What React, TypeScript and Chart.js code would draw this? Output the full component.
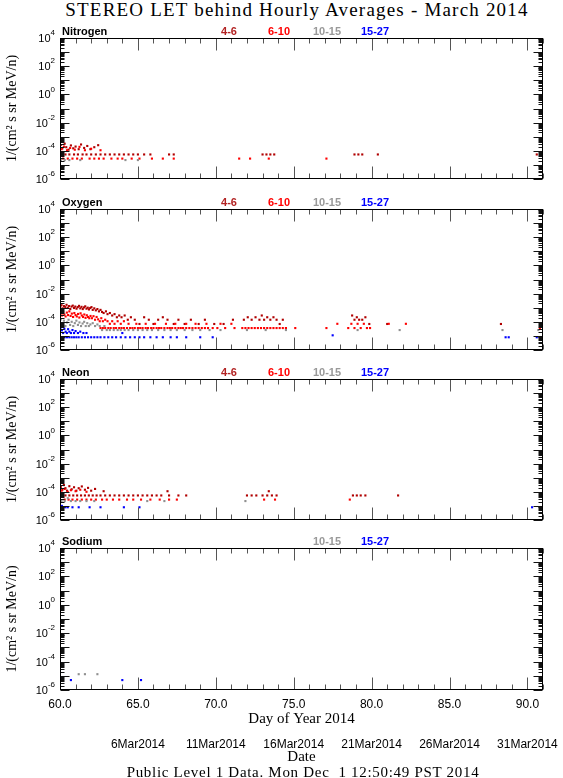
import React, { useEffect, useRef } from "react";
import { Chart, registerables } from "chart.js";

Chart.register(...registerables);

// ---------- axis / label data ----------
const X_MIN = 60;
const X_MAX = 91;
const X_TICKS = [60, 65, 70, 75, 80, 85, 90];
const DATE_TICKS = [65, 70, 75, 80, 85, 90];
const DATE_LABELS = ["6Mar2014", "11Mar2014", "16Mar2014", "21Mar2014", "26Mar2014", "31Mar2014"];
const X_TITLE = "Day of Year 2014";
const DATE_TITLE = "Date";
const Y_TITLE = "1/(cm² s sr MeV/n)";
const Y_MIN = 1e-6;
const Y_MAX = 1e4;
const Y_TICKS = [1e4, 1e2, 1, 1e-2, 1e-4, 1e-6];
const Y_EXPONENTS = ["4", "2", "0", "-2", "-4", "-6"];
const SERIES_LABELS = ["4-6", "6-10", "10-15", "15-27"];
const SERIES_COLORS = ["#b00000", "#ff0000", "#909090", "#0000ff"];
const SERIES_TEXT_COLORS = ["#b22222", "#ff0000", "#999999", "#0000ff"];
const PANEL_NAMES = ["Nitrogen", "Oxygen", "Neon", "Sodium"];

type P = [number, number];

// ---------- Nitrogen ----------
const N_46: P[] = [
  [60.05, 2.6e-4], [60.15, 1.5e-4], [60.3, 3.2e-4], [60.4, 1.8e-4], [60.55, 1.2e-4], [60.7, 2.4e-4],
  [60.85, 1.5e-4], [61.0, 2.0e-4], [61.2, 1.3e-4], [61.35, 2.8e-4], [61.55, 1.6e-4], [61.75, 2.2e-4],
  [61.95, 1.3e-4], [62.2, 1.8e-4], [62.45, 2.5e-4],
  [60.1, 5.5e-5], [60.35, 5.5e-5], [60.6, 5.5e-5], [60.9, 5.5e-5], [61.15, 5.5e-5], [61.45, 5.5e-5],
  [61.7, 5.5e-5], [62.0, 5.5e-5], [62.3, 5.5e-5], [62.6, 5.5e-5], [62.9, 5.5e-5], [63.2, 5.5e-5],
  [63.5, 5.5e-5], [63.8, 5.5e-5], [64.1, 5.5e-5], [64.4, 5.5e-5], [64.7, 5.5e-5], [65.0, 5.5e-5],
  [65.4, 5.5e-5], [65.8, 5.5e-5], [67.0, 5.5e-5], [67.3, 5.5e-5], [73.0, 5.5e-5], [73.25, 5.5e-5],
  [73.5, 5.5e-5], [73.75, 5.5e-5], [78.9, 5.5e-5], [79.15, 5.5e-5], [79.4, 5.5e-5], [80.4, 5.5e-5],
  [90.6, 5.5e-5],
];
const N_610: P[] = [
  [60.1, 1.3e-4], [60.25, 2.0e-4], [60.45, 1.1e-4], [60.65, 1.6e-4], [60.95, 1.2e-4], [61.25, 1.9e-4],
  [61.6, 1.1e-4], [62.0, 1.4e-4], [62.6, 1.1e-4],
  [60.2, 2.8e-5], [60.5, 2.8e-5], [60.8, 2.8e-5], [61.1, 2.8e-5], [61.4, 2.8e-5], [61.9, 2.8e-5],
  [62.2, 2.8e-5], [62.5, 2.8e-5], [62.8, 2.8e-5], [63.3, 2.8e-5], [63.7, 2.8e-5], [64.0, 2.8e-5],
  [64.6, 2.8e-5], [65.1, 2.8e-5], [65.9, 2.8e-5], [66.6, 2.8e-5], [67.3, 2.8e-5], [71.5, 2.8e-5],
  [72.2, 2.8e-5], [73.4, 2.8e-5], [77.1, 2.8e-5],
];
const N_1015: P[] = [[60.05, 2.2e-5], [60.3, 2.2e-5], [60.6, 2.2e-5], [61.3, 2.2e-5], [64.2, 2.2e-5], [65.0, 2.2e-5]];
const N_1527: P[] = [];

// ---------- Oxygen ----------
const O_46: P[] = [
  [60.02, 1.2e-3], [60.1, 1.5e-3], [60.18, 9e-4], [60.26, 1.3e-3], [60.34, 1.1e-3], [60.42, 1.6e-3],
  [60.5, 1.0e-3], [60.58, 1.3e-3], [60.66, 8e-4], [60.74, 1.2e-3], [60.82, 1.4e-3], [60.9, 9.5e-4],
  [60.98, 1.2e-3], [61.06, 8.5e-4], [61.14, 1.1e-3], [61.22, 1.35e-3], [61.3, 9e-4], [61.38, 1.15e-3],
  [61.46, 8e-4], [61.54, 1.05e-3], [61.62, 1.25e-3], [61.7, 8.5e-4], [61.78, 1.0e-3], [61.86, 7.5e-4],
  [61.94, 9.5e-4], [62.02, 1.1e-3], [62.1, 7e-4], [62.2, 9e-4], [62.3, 6.5e-4], [62.4, 8e-4],
  [62.5, 5.5e-4], [62.6, 7e-4], [62.7, 5e-4],
  [62.8, 4.2e-4], [62.95, 5.5e-4], [63.05, 3.5e-4], [63.2, 4.2e-4], [63.35, 2.8e-4], [63.5, 3.5e-4],
  [63.65, 2.1e-4], [63.8, 2.8e-4], [63.95, 2.1e-4], [64.15, 2.8e-4], [64.35, 1.4e-4], [64.55, 2.1e-4],
  [64.8, 1.4e-4], [65.1, 7e-5], [65.4, 2.1e-4], [65.7, 1.4e-4], [66.0, 7e-5], [66.3, 1.4e-4],
  [66.6, 2.1e-4], [66.9, 1.4e-4], [67.3, 7e-5], [67.6, 1.4e-4], [68.0, 7e-5], [68.4, 1.4e-4],
  [68.9, 7e-5], [69.3, 1.4e-4], [69.9, 7e-5], [70.5, 7e-5], [71.1, 1.4e-4],
  [71.8, 1.4e-4], [72.05, 2.1e-4], [72.3, 1.4e-4], [72.55, 2.1e-4], [72.8, 1.4e-4], [72.95, 2.8e-4],
  [73.1, 1.4e-4], [73.3, 2.1e-4], [73.5, 1.4e-4], [73.7, 2.1e-4], [73.9, 1.4e-4], [74.1, 7e-5],
  [74.3, 1.4e-4],
  [78.75, 2.8e-4], [78.9, 1.4e-4], [79.05, 2.1e-4], [79.2, 1.4e-4], [79.4, 1.4e-4], [79.6, 2.1e-4],
  [79.85, 7e-5], [81.0, 7e-5], [88.3, 7e-5],
];
const O_610: P[] = [
  [60.04, 4e-4], [60.12, 2.8e-4], [60.2, 5e-4], [60.28, 3.3e-4], [60.36, 2.4e-4], [60.44, 4.5e-4],
  [60.52, 3e-4], [60.6, 5.5e-4], [60.68, 2.6e-4], [60.76, 3.8e-4], [60.84, 2.2e-4], [60.92, 4.2e-4],
  [61.0, 3e-4], [61.08, 2.4e-4], [61.16, 3.6e-4], [61.24, 2.0e-4], [61.32, 4e-4], [61.4, 2.8e-4],
  [61.48, 2.2e-4], [61.56, 3.3e-4], [61.64, 1.9e-4], [61.72, 2.9e-4], [61.8, 2.2e-4], [61.88, 1.8e-4],
  [61.96, 2.6e-4], [62.05, 1.8e-4], [62.15, 2.5e-4], [62.25, 1.4e-4], [62.35, 2.2e-4], [62.45, 1.5e-4],
  [62.55, 1.1e-4], [62.65, 1.8e-4], [62.75, 1.1e-4], [62.9, 1.4e-4], [63.05, 1.1e-4], [63.2, 7.2e-5],
  [63.35, 1.1e-4], [63.5, 7.2e-5], [63.7, 1.1e-4], [63.9, 7.2e-5], [64.1, 1.1e-4],
  [64.4, 7.2e-5], [64.9, 7.2e-5], [65.5, 7.2e-5], [66.1, 7.2e-5], [66.8, 7.2e-5], [67.4, 7.2e-5],
  [68.1, 7.2e-5], [68.7, 7.2e-5], [69.4, 7.2e-5], [70.3, 7.2e-5], [71.0, 7.2e-5],
  [62.6, 3.6e-5], [62.75, 3.6e-5], [62.9, 3.6e-5], [63.1, 3.6e-5], [63.25, 3.6e-5], [63.45, 3.6e-5],
  [63.6, 3.6e-5], [63.8, 3.6e-5], [63.95, 3.6e-5], [64.1, 3.6e-5], [64.3, 3.6e-5], [64.5, 3.6e-5],
  [64.65, 3.6e-5], [64.8, 3.6e-5], [65.0, 3.6e-5], [65.15, 3.6e-5], [65.3, 3.6e-5], [65.5, 3.6e-5],
  [65.65, 3.6e-5], [65.85, 3.6e-5], [66.0, 3.6e-5], [66.2, 3.6e-5], [66.35, 3.6e-5], [66.5, 3.6e-5],
  [66.7, 3.6e-5], [66.9, 3.6e-5], [67.05, 3.6e-5], [67.2, 3.6e-5], [67.4, 3.6e-5], [67.6, 3.6e-5],
  [67.75, 3.6e-5], [67.9, 3.6e-5], [68.1, 3.6e-5], [68.3, 3.6e-5], [68.5, 3.6e-5], [68.7, 3.6e-5],
  [68.9, 3.6e-5], [69.1, 3.6e-5], [69.3, 3.6e-5], [69.5, 3.6e-5], [69.8, 3.6e-5], [70.1, 3.6e-5],
  [70.6, 3.6e-5], [71.2, 3.6e-5], [71.7, 3.6e-5], [71.9, 3.6e-5], [72.1, 3.6e-5], [72.3, 3.6e-5],
  [72.5, 3.6e-5], [72.7, 3.6e-5], [72.9, 3.6e-5], [73.1, 3.6e-5], [73.3, 3.6e-5], [73.5, 3.6e-5],
  [73.7, 3.6e-5], [73.9, 3.6e-5], [74.1, 3.6e-5], [74.3, 3.6e-5], [74.5, 3.6e-5],
  [75.1, 3.6e-5], [77.1, 3.6e-5], [77.8, 7.2e-5], [78.5, 3.6e-5], [78.7, 7.2e-5], [78.9, 3.6e-5],
  [79.1, 7.2e-5], [79.3, 3.6e-5], [79.5, 7.2e-5], [79.7, 3.6e-5], [79.9, 3.6e-5], [81.1, 7.2e-5],
  [82.2, 7.2e-5], [90.8, 3.6e-5],
];
const O_1015: P[] = [
  [60.05, 1.5e-4], [60.15, 8e-5], [60.25, 1.2e-4], [60.35, 5e-5], [60.45, 9e-5], [60.55, 1.4e-4],
  [60.65, 6e-5], [60.75, 1e-4], [60.85, 5e-5], [60.95, 8e-5], [61.05, 1.2e-4], [61.15, 6e-5],
  [61.25, 9e-5], [61.35, 5e-5], [61.45, 7.5e-5], [61.55, 1e-4], [61.65, 5e-5], [61.75, 8e-5],
  [61.85, 5e-5], [61.95, 6.5e-5], [62.1, 8e-5], [62.25, 5e-5], [62.4, 6.5e-5], [62.55, 5e-5],
  [62.7, 2.6e-5], [62.85, 5e-5],
  [63.0, 2.6e-5], [63.2, 2.6e-5], [63.45, 2.6e-5], [63.7, 2.6e-5], [63.9, 2.6e-5], [64.15, 2.6e-5],
  [64.4, 2.6e-5], [64.7, 2.6e-5], [65.0, 2.6e-5], [65.3, 2.6e-5], [65.6, 2.6e-5], [65.9, 2.6e-5],
  [66.3, 2.6e-5], [66.7, 2.6e-5], [67.1, 2.6e-5], [67.5, 2.6e-5], [68.0, 2.6e-5], [68.5, 2.6e-5],
  [69.0, 2.6e-5], [69.6, 2.6e-5], [70.3, 2.6e-5], [72.0, 2.6e-5], [73.2, 2.6e-5], [74.5, 2.6e-5],
  [79.1, 2.6e-5], [81.8, 2.6e-5], [88.4, 2.6e-5], [90.7, 2.6e-5],
];
const O_1527: P[] = [
  [60.05, 4e-5], [60.12, 2.5e-5], [60.2, 1.6e-5], [60.28, 3.2e-5], [60.36, 2e-5], [60.44, 1.6e-5],
  [60.52, 3e-5], [60.6, 2e-5], [60.7, 1.6e-5], [60.8, 2.6e-5], [60.9, 1.6e-5], [61.0, 2.2e-5],
  [61.15, 1.6e-5], [61.3, 2e-5], [61.5, 1.6e-5], [61.7, 1.6e-5], [64.0, 1.6e-5],
  [60.0, 8e-6], [60.15, 8e-6], [60.3, 8e-6], [60.45, 8e-6], [60.6, 8e-6], [60.75, 8e-6], [60.9, 8e-6],
  [61.05, 8e-6], [61.2, 8e-6], [61.4, 8e-6], [61.6, 8e-6], [61.8, 8e-6], [62.0, 8e-6], [62.2, 8e-6],
  [62.4, 8e-6], [62.6, 8e-6], [62.85, 8e-6], [63.1, 8e-6], [63.35, 8e-6], [63.6, 8e-6], [63.9, 8e-6],
  [64.2, 8e-6], [64.5, 8e-6], [64.8, 8e-6], [65.1, 8e-6], [65.4, 8e-6], [65.8, 8e-6], [66.2, 8e-6],
  [66.6, 8e-6], [67.1, 8e-6], [67.5, 8e-6], [68.1, 8e-6], [69.0, 8e-6], [69.8, 8e-6], [77.5, 1.1e-5],
  [88.6, 8e-6], [88.8, 8e-6], [90.6, 8e-6],
];

// ---------- Neon ----------
const NE_46: P[] = [
  [60.05, 2.2e-4], [60.15, 1.4e-4], [60.25, 3e-4], [60.35, 1.8e-4], [60.45, 1.2e-4], [60.6, 2.5e-4],
  [60.75, 1.5e-4], [60.9, 2.1e-4], [61.05, 1.2e-4], [61.2, 1.8e-4], [61.4, 2.4e-4], [61.6, 1.4e-4],
  [61.8, 1.9e-4], [62.0, 1.2e-4], [62.25, 1.6e-4],
  [60.1, 5.5e-5], [60.35, 5.5e-5], [60.6, 5.5e-5], [60.85, 5.5e-5], [61.1, 5.5e-5], [61.35, 5.5e-5],
  [61.6, 5.5e-5], [61.85, 5.5e-5], [62.1, 5.5e-5], [62.35, 5.5e-5], [62.6, 5.5e-5], [62.9, 5.5e-5],
  [63.2, 5.5e-5], [63.5, 5.5e-5], [63.8, 5.5e-5], [64.1, 5.5e-5], [64.4, 5.5e-5], [64.7, 5.5e-5],
  [65.0, 5.5e-5], [65.3, 5.5e-5], [65.6, 5.5e-5], [65.9, 5.5e-5], [66.2, 5.5e-5], [66.5, 5.5e-5],
  [67.0, 5.5e-5], [67.6, 5.5e-5], [68.1, 5.5e-5],
  [72.0, 5.5e-5], [72.3, 5.5e-5], [72.6, 5.5e-5], [73.0, 5.5e-5], [73.3, 5.5e-5], [73.6, 5.5e-5],
  [73.9, 5.5e-5], [78.8, 5.5e-5], [79.05, 5.5e-5], [79.3, 5.5e-5], [79.6, 5.5e-5], [81.7, 5.5e-5],
  [62.8, 1.1e-4], [66.9, 1.1e-4], [73.4, 1.1e-4],
];
const NE_610: P[] = [
  [60.1, 1.2e-4], [60.3, 1.6e-4], [60.5, 1e-4], [60.7, 1.3e-4], [61.0, 1.1e-4], [61.3, 1.4e-4], [61.7, 1e-4],
  [60.3, 2.8e-5], [60.55, 2.8e-5], [60.8, 2.8e-5], [61.1, 2.8e-5], [61.4, 2.8e-5], [61.7, 2.8e-5],
  [62.0, 2.8e-5], [62.3, 2.8e-5], [62.7, 2.8e-5], [63.0, 2.8e-5], [63.4, 2.8e-5], [63.8, 2.8e-5],
  [64.3, 2.8e-5], [64.7, 2.8e-5], [65.2, 2.8e-5], [65.8, 2.8e-5], [66.4, 2.8e-5], [67.0, 2.8e-5],
  [67.5, 2.8e-5], [73.1, 2.8e-5], [73.8, 2.8e-5], [78.6, 2.8e-5],
];
const NE_1015: P[] = [
  [60.1, 2.2e-5], [60.3, 2.2e-5], [60.5, 3.5e-5], [60.7, 2.2e-5], [61.0, 2.2e-5], [61.3, 2.2e-5],
  [61.7, 2.2e-5], [62.2, 2.2e-5], [65.6, 2.2e-5], [66.7, 2.2e-5], [71.9, 2.2e-5],
];
const NE_1527: P[] = [
  [60.02, 8e-6], [60.12, 1e-5], [60.2, 8e-6], [60.35, 8e-6], [60.5, 8e-6], [60.8, 8e-6], [61.2, 8e-6],
  [61.9, 8e-6], [62.6, 8e-6], [64.1, 8e-6], [65.1, 8e-6], [90.3, 8e-6],
];

// ---------- Sodium ----------
const NA_1015: P[] = [[61.2, 1.3e-5], [61.6, 1.3e-5], [62.4, 1.3e-5]];
const NA_1527: P[] = [[60.15, 5e-6], [60.7, 5e-6], [64.0, 5e-6], [65.2, 5e-6]];

const PANEL_SERIES: (P[] | null)[][] = [
  [N_46, N_610, N_1015, N_1527],
  [O_46, O_610, O_1015, O_1527],
  [NE_46, NE_610, NE_1015, NE_1527],
  [null, null, NA_1015, NA_1527],
];

// ---------- layout (styling) ----------
const W = 563;
const PLOT_TOPS = [38, 209, 379, 548];
const PLOT_H = 142;
const PAD_TOP = 30;
const PAD_BOTTOM = 3;
const BOTTOM_EXTRA = 76;
const Y_AXIS_W = 60;
const RIGHT_PAD = 20;
const LEGEND_OFFSETS = [169, 219, 267, 315]; // centres from plot left
const SANS = "'Liberation Sans', 'DejaVu Sans', sans-serif";
const SERIF = "'Liberation Serif', 'DejaVu Serif', serif";

const decorPlugin = {
  id: "decor",
  afterDatasetsDraw(chart: any, _args: any, opts: any) {
    const { ctx, chartArea: a, scales } = chart;
    const xs = scales.x;
    const ys = scales.y;
    const L = Math.round(a.left) + 0.5;
    const R = Math.round(a.right) - 0.5;
    const T = Math.round(a.top) + 0.5;
    const B = Math.round(a.bottom) - 0.5;
    ctx.save();
    // x ticks (inward, top and bottom)
    ctx.lineWidth = 1;
    ctx.strokeStyle = "#555";
    for (let d = Math.ceil(xs.min); d <= xs.max; d++) {
      const px = Math.round(xs.getPixelForValue(d)) + 0.5;
      const len = d % 5 === 0 ? 12 : 5;
      ctx.beginPath();
      ctx.moveTo(px, B);
      ctx.lineTo(px, B - len);
      ctx.moveTo(px, T);
      ctx.lineTo(px, T + len);
      ctx.stroke();
    }
    // y ticks (log, inward, left and right)
    ctx.strokeStyle = "#111";
    const e0 = Math.round(Math.log10(ys.min));
    const e1 = Math.round(Math.log10(ys.max));
    for (let e = e0; e <= e1; e++) {
      for (let m = 1; m <= 9; m++) {
        if (e === e1 && m > 1) break;
        const py = Math.round(ys.getPixelForValue(m * Math.pow(10, e))) + 0.5;
        const len = m === 1 ? 9 : 4;
        ctx.beginPath();
        ctx.moveTo(L, py);
        ctx.lineTo(L + len, py);
        ctx.moveTo(R, py);
        ctx.lineTo(R - len, py);
        ctx.stroke();
      }
    }
    // frame
    ctx.strokeStyle = "#000";
    ctx.strokeRect(L, T, R - L, B - T);
    // y tick labels with superscript exponents
    ctx.fillStyle = "#000";
    ctx.textBaseline = "middle";
    ys.ticks.forEach((t: any) => {
      const idx = Y_TICKS.indexOf(t.value);
      if (idx < 0) return;
      const py = ys.getPixelForValue(t.value);
      const exp = Y_EXPONENTS[idx];
      ctx.font = "8px " + SANS;
      const ew = ctx.measureText(exp).width;
      const xEnd = a.left - 5;
      ctx.textAlign = "left";
      ctx.fillText(exp, xEnd - ew, py - 5);
      ctx.font = "11px " + SANS;
      ctx.textAlign = "right";
      ctx.fillText("10", xEnd - ew, py + 1);
    });
    // panel legend
    ctx.textBaseline = "alphabetic";
    ctx.font = "bold 11px " + SANS;
    ctx.textAlign = "left";
    ctx.fillStyle = "#000";
    ctx.fillText(opts.name, a.left + 2, a.top - 3);
    ctx.textAlign = "center";
    opts.legend.forEach((i: number) => {
      ctx.fillStyle = SERIES_TEXT_COLORS[i];
      ctx.fillText(SERIES_LABELS[i], a.left + LEGEND_OFFSETS[i], a.top - 3);
    });
    // bottom axis labels (day of year and date), placed with the x scale
    if (opts.bottom) {
      const cx = (a.left + a.right) / 2;
      ctx.fillStyle = "#000";
      ctx.textAlign = "center";
      ctx.textBaseline = "middle";
      ctx.font = "12px " + SANS;
      X_TICKS.forEach((v) => ctx.fillText(v.toFixed(1), xs.getPixelForValue(v), a.bottom + 15));
      ctx.font = "15px " + SERIF;
      ctx.fillText(X_TITLE, cx, a.bottom + 29);
      ctx.font = "12px " + SANS;
      DATE_TICKS.forEach((v, i) => ctx.fillText(DATE_LABELS[i], xs.getPixelForValue(v), a.bottom + 55));
      ctx.font = "15px " + SERIF;
      ctx.fillText(DATE_TITLE, cx, a.bottom + 67);
    }
    ctx.restore();
  },
};

function Panel({ index }: { index: number }) {
  const ref = useRef<HTMLCanvasElement>(null);
  const isBottom = index === PANEL_NAMES.length - 1;
  const padBottom = PAD_BOTTOM + (isBottom ? BOTTOM_EXTRA : 0);
  const height = PAD_TOP + PLOT_H + padBottom;
  const top = PLOT_TOPS[index] - PAD_TOP;

  useEffect(() => {
    const series = PANEL_SERIES[index];
    const datasets: any[] = [];
    const legend: number[] = [];
    series.forEach((s, i) => {
      if (!s) return;
      legend.push(i);
      datasets.push({
        label: SERIES_LABELS[i],
        data: s.map(([x, y]) => ({ x, y })),
        backgroundColor: SERIES_COLORS[i],
        borderWidth: 0,
        pointStyle: "rect",
        pointRadius: 1.5,
        order: 3 - i,
      });
    });
    const chart = new Chart(ref.current as HTMLCanvasElement, {
      type: "scatter",
      data: { datasets },
      options: {
        responsive: false,
        animation: false,
        devicePixelRatio: 1,
        layout: { padding: { top: PAD_TOP, left: 0, right: RIGHT_PAD, bottom: padBottom } },
        plugins: {
          legend: { display: false },
          tooltip: { enabled: false },
          decor: { name: PANEL_NAMES[index], legend, bottom: isBottom },
        } as any,
        scales: {
          x: {
            type: "linear",
            min: X_MIN,
            max: X_MAX,
            position: "bottom",
            display: false,
          },
          y: {
            type: "logarithmic",
            min: Y_MIN,
            max: Y_MAX,
            position: "left",
            grid: { display: false },
            border: { display: false },
            afterBuildTicks: (ax: any) => {
              ax.ticks = Y_TICKS.map((v) => ({ value: v }));
            },
            ticks: { display: false },
            title: {
              display: true,
              text: Y_TITLE,
              color: "#000",
              font: { family: SERIF, size: 14 },
              padding: { top: 4, bottom: 0 },
            },
            afterFit: (ax: any) => {
              ax.width = Y_AXIS_W;
            },
          },
        } as any,
      },
      plugins: [decorPlugin],
    });
    return () => chart.destroy();
  }, [index]);

  return (
    <canvas
      ref={ref}
      width={W}
      height={height}
      style={{ position: "absolute", left: 0, top, width: W, height }}
    />
  );
}

export default function App() {
  return (
    <div
      style={{
        position: "absolute",
        left: 0,
        top: 0,
        width: W,
        height: 778,
        background: "#fff",
        overflow: "hidden",
      }}
    >
      <div
        style={{
          position: "absolute",
          left: 297,
          top: 0,
          transform: "translateX(-50%)",
          whiteSpace: "nowrap",
          fontFamily: SERIF,
          fontSize: 19,
          letterSpacing: 1.2,
          lineHeight: "20px",
          color: "#000",
        }}
      >
        STEREO LET behind Hourly Averages - March 2014
      </div>
      {PANEL_NAMES.map((_, i) => (
        <Panel key={i} index={i} />
      ))}
      <div
        style={{
          position: "absolute",
          left: 303,
          top: 764,
          transform: "translateX(-50%)",
          whiteSpace: "pre",
          fontFamily: SERIF,
          fontSize: 15,
          letterSpacing: 0.7,
          lineHeight: "16px",
          color: "#000",
        }}
      >
        Public Level 1 Data. Mon Dec  1 12:50:49 PST 2014
      </div>
    </div>
  );
}
